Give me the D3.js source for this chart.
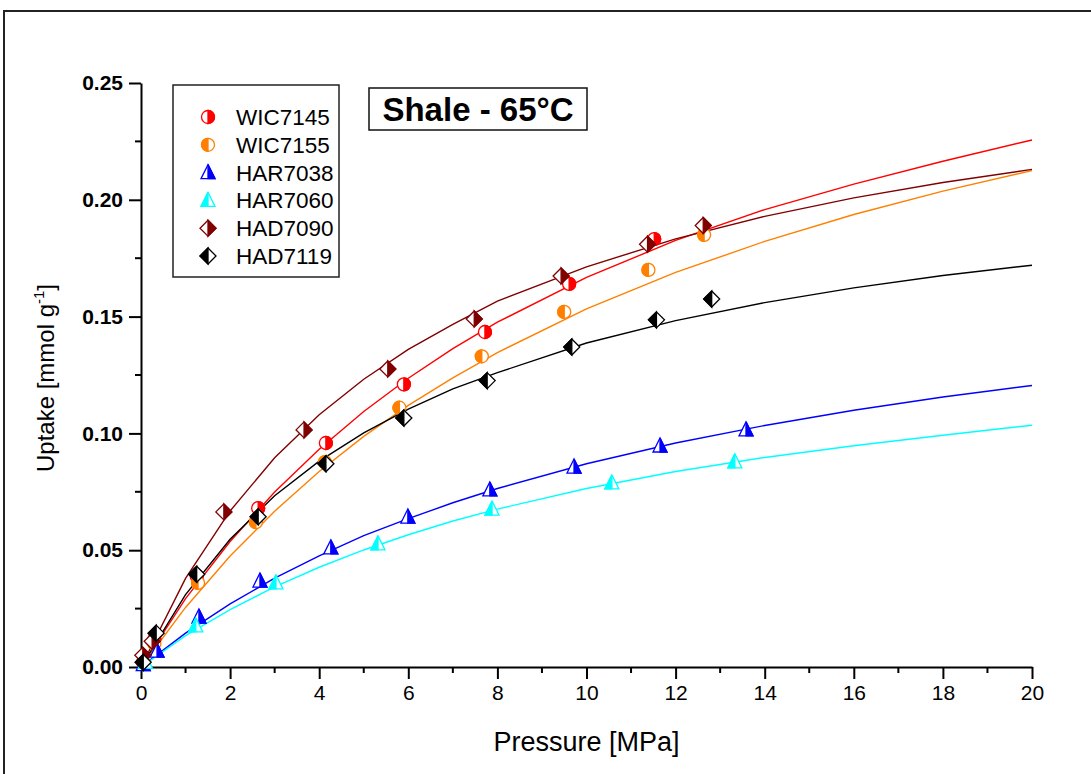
<!DOCTYPE html>
<html>
<head>
<meta charset="utf-8">
<script src="https://cdn.jsdelivr.net/npm/d3@7"></script>
<style>
  html, body { margin: 0; padding: 0; background: #fff; }
  svg { display: block; font-family: "Liberation Sans", Arial, sans-serif; }
</style>
</head>
<body>
<svg id="chart" width="1091" height="774"></svg>
<script>
// ---- Measured isotherms (pressure in MPa, uptake in mmol/g) ----
const seriesNames = ["WIC7145", "WIC7155", "HAR7038", "HAR7060", "HAD7090", "HAD7119"];

const wic7145P = [0.05, 0.3, 1.25, 2.63, 4.15, 5.9, 7.72, 9.61, 11.52];
const wic7145U = [0.002, 0.012, 0.039, 0.068, 0.0959, 0.121, 0.1434, 0.164, 0.1832];

const wic7155P = [0.05, 0.3, 1.28, 2.58, 4.13, 5.8, 7.65, 9.5, 11.39, 12.64];
const wic7155U = [0.002, 0.010, 0.036, 0.062, 0.0877, 0.111, 0.133, 0.152, 0.170, 0.185];

const har7038P = [0.05, 0.36, 1.3, 2.67, 4.26, 5.99, 7.83, 9.72, 11.65, 13.58];
const har7038U = [0.001, 0.0068, 0.0214, 0.0368, 0.051, 0.0642, 0.0758, 0.0856, 0.0946, 0.1015];

const har7060P = [0.1, 1.23, 3.03, 5.32, 7.88, 10.57, 13.33];
const har7060U = [0.002, 0.0176, 0.036, 0.0527, 0.0676, 0.0788, 0.0878];

const had7090P = [0.04, 0.25, 1.86, 3.66, 5.54, 7.48, 9.43, 11.37, 12.62];
const had7090U = [0.005, 0.011, 0.0664, 0.1015, 0.1276, 0.149, 0.1674, 0.181, 0.189];

const had7119P = [0.05, 0.34, 1.25, 2.63, 4.15, 5.9, 7.77, 9.67, 11.57, 12.81];
const had7119U = [0.002, 0.0145, 0.0397, 0.0643, 0.087, 0.1066, 0.1226, 0.137, 0.1486, 0.1575];

// ---- Fitted curves, sampled at these pressures ----
const fitP = [0, 1, 2, 3, 4, 5, 6, 7, 8, 10, 12, 14, 16, 18, 20];
const fitWic7145 = [0, 0.0293, 0.0537, 0.0749, 0.0932, 0.1094, 0.1236, 0.1363, 0.1476, 0.1668, 0.1826, 0.1958, 0.2067, 0.2165, 0.2256];
const fitWic7155 = [0, 0.0255, 0.0475, 0.0667, 0.0837, 0.0987, 0.1120, 0.1238, 0.1346, 0.1533, 0.1689, 0.1822, 0.1937, 0.2037, 0.2125];
const fitHar7038 = [0, 0.0145, 0.0270, 0.0380, 0.0476, 0.0562, 0.0635, 0.0703, 0.0764, 0.0870, 0.0959, 0.1034, 0.1099, 0.1156, 0.1205];
const fitHar7060 = [0, 0.0134, 0.0246, 0.0343, 0.0427, 0.0501, 0.0566, 0.0625, 0.0676, 0.0764, 0.0837, 0.0897, 0.0947, 0.0992, 0.1035];
const fitHad7090 = [0, 0.0379, 0.0668, 0.0896, 0.1080, 0.1232, 0.1360, 0.1467, 0.1566, 0.1713, 0.1833, 0.1929, 0.2008, 0.2074, 0.2130];
const fitHad7119 = [0, 0.0310, 0.0547, 0.0733, 0.0881, 0.1002, 0.1104, 0.1191, 0.1260, 0.1387, 0.1483, 0.1560, 0.1623, 0.1676, 0.1720];

const seriesColors = ["#ff0000", "#ff8000", "#0000ff", "#00ffff", "#800000", "#000000"];
const seriesShapes = ["circle", "circle", "triangle", "triangle", "diamond", "diamond"];
const filledSide   = ["right", "left", "right", "left", "right", "left"];

const xTicks = [0, 2, 4, 6, 8, 10, 12, 14, 16, 18, 20];
const yTicks = [0, 0.05, 0.10, 0.15, 0.20, 0.25];

const titleText = "Shale - 65°C";
const xTitle = "Pressure [MPa]";

// ---- assemble series ----
const pointsP = [wic7145P, wic7155P, har7038P, har7060P, had7090P, had7119P];
const pointsU = [wic7145U, wic7155U, har7038U, har7060U, had7090U, had7119U];
const fits = [fitWic7145, fitWic7155, fitHar7038, fitHar7060, fitHad7090, fitHad7119];

const series = seriesNames.map((name, i) => ({
  name,
  color: seriesColors[i],
  shape: seriesShapes[i],
  side: filledSide[i],
  points: pointsP[i].map((p, j) => ({ p, u: pointsU[i][j] })),
  fit: fitP.map((p, j) => ({ p, u: fits[i][j] }))
}));

// ---- layout ----
const svg = d3.select("#chart");
const W = 1091, H = 774;
const plot = { left: 141, right: 1032, top: 83, bottom: 667 };

const x = d3.scaleLinear().domain([0, 20]).range([plot.left, plot.right]);
const y = d3.scaleLinear().domain([0, 0.25]).range([plot.bottom, plot.top]);

// outer frame
svg.append("rect")
  .attr("x", 4).attr("y", 11)
  .attr("width", W + 40).attr("height", H + 40)
  .attr("fill", "none").attr("stroke", "#222").attr("stroke-width", 2);

// clip for plotted curves
svg.append("defs").append("clipPath").attr("id", "plotClip")
  .append("rect")
  .attr("x", plot.left).attr("y", plot.top - 20)
  .attr("width", plot.right - plot.left + 2)
  .attr("height", plot.bottom - plot.top + 20);

// ---- axes ----
const xAxis = d3.axisBottom(x).tickValues(xTicks).tickFormat(d3.format("d"))
  .tickSizeInner(12).tickSizeOuter(0).tickPadding(6);
const gx = svg.append("g").attr("transform", `translate(0,${plot.bottom})`).call(xAxis);
gx.selectAll("text").attr("font-size", 21).attr("fill", "#000")
  .attr("font-family", "'Liberation Sans', Arial, sans-serif");

// minor x ticks
const xMinor = d3.range(1, 20, 2);
gx.selectAll(".minor").data(xMinor).enter().append("line")
  .attr("class", "minor")
  .attr("x1", d => x(d)).attr("x2", d => x(d))
  .attr("y1", 0).attr("y2", 6)
  .attr("stroke", "#000").attr("stroke-width", 2);

const yAxis = d3.axisLeft(y).tickValues(yTicks).tickFormat(d3.format(".2f"))
  .tickSizeInner(12).tickSizeOuter(0).tickPadding(6);
const gy = svg.append("g").attr("transform", `translate(${plot.left},0)`).call(yAxis);
gy.selectAll("text").attr("font-size", 21).attr("font-weight", "bold").attr("fill", "#000")
  .attr("font-family", "'Liberation Sans', Arial, sans-serif");

const yMinor = [0.025, 0.075, 0.125, 0.175, 0.225];
gy.selectAll(".minor").data(yMinor).enter().append("line")
  .attr("class", "minor")
  .attr("x1", 0).attr("x2", -6)
  .attr("y1", d => y(d)).attr("y2", d => y(d))
  .attr("stroke", "#000").attr("stroke-width", 2);

[gx, gy].forEach(g => {
  g.select(".domain").attr("stroke", "#000").attr("stroke-width", 2);
  g.selectAll(".tick line").attr("stroke", "#000").attr("stroke-width", 2);
});

// axis titles
svg.append("text")
  .attr("x", (plot.left + plot.right) / 2).attr("y", 751)
  .attr("text-anchor", "middle").attr("font-size", 27).attr("fill", "#000")
  .text(xTitle);

const yt = svg.append("text")
  .attr("transform", `translate(54,378) rotate(-90)`)
  .attr("text-anchor", "middle").attr("font-size", 24).attr("fill", "#000");
yt.append("tspan").text("Uptake [mmol g");
yt.append("tspan").attr("font-size", 15).attr("dy", -10).text("-1");
yt.append("tspan").attr("dy", 10).text("]");

// ---- fitted curves ----
const line = d3.line().x(d => x(d.p)).y(d => y(d.u)).curve(d3.curveLinear);
const curves = svg.append("g").attr("clip-path", "url(#plotClip)");
curves.selectAll("path").data(series).enter().append("path")
  .attr("d", d => line(d.fit))
  .attr("fill", "none")
  .attr("stroke", d => d.color)
  .attr("stroke-width", 1.4);

// ---- half-filled marker shapes ----
function markerPaths(shape, side) {
  const s = side === "right" ? 1 : -1;
  if (shape === "circle") {
    const r = 6.5;
    const outline = `M0,${-r}A${r},${r} 0 1,1 0,${r}A${r},${r} 0 1,1 0,${-r}Z`;
    const half = `M0,${-r}A${r},${r} 0 0,${s > 0 ? 1 : 0} 0,${r}Z`;
    return { outline, half };
  }
  if (shape === "triangle") {
    const hw = 7, top = -8, bot = 6;
    const outline = `M0,${top}L${hw},${bot}L${-hw},${bot}Z`;
    const half = `M0,${top}L${s * hw},${bot}L0,${bot}Z`;
    return { outline, half };
  }
  const r = 8;
  const outline = `M0,${-r}L${r},0L0,${r}L${-r},0Z`;
  const half = `M0,${-r}L${s * r},0L0,${r}Z`;
  return { outline, half };
}

function drawMarker(g, d) {
  const m = markerPaths(d.shape, d.side);
  g.append("path").attr("d", m.outline).attr("fill", "#fff").attr("stroke", d.color).attr("stroke-width", 1.3);
  g.append("path").attr("d", m.half).attr("fill", d.color).attr("stroke", d.color).attr("stroke-width", 1.3)
    .attr("stroke-linejoin", "miter");
}

const markers = svg.append("g");
series.forEach(s => {
  s.points.forEach(pt => {
    const g = markers.append("g").attr("transform", `translate(${x(pt.p)},${y(pt.u)})`);
    drawMarker(g, s);
  });
});

// ---- legend ----
const legend = svg.append("g");
legend.append("rect")
  .attr("x", 173).attr("y", 85).attr("width", 166).attr("height", 192)
  .attr("fill", "#fff").attr("stroke", "#222").attr("stroke-width", 1.5);
series.forEach((s, i) => {
  const cy = 117 + i * 27.8;
  const g = legend.append("g").attr("transform", `translate(208,${cy})`);
  drawMarker(g, s);
  legend.append("text")
    .attr("x", 236).attr("y", cy + 8)
    .attr("font-size", 22.5).attr("fill", "#000")
    .text(s.name);
});

// ---- title box ----
svg.append("rect")
  .attr("x", 369).attr("y", 88).attr("width", 218).attr("height", 42)
  .attr("fill", "#fff").attr("stroke", "#111").attr("stroke-width", 1.5);
svg.append("text")
  .attr("x", 478).attr("y", 121)
  .attr("text-anchor", "middle").attr("font-size", 33).attr("font-weight", "bold").attr("fill", "#000")
  .text(titleText);
</script>
</body>
</html>
